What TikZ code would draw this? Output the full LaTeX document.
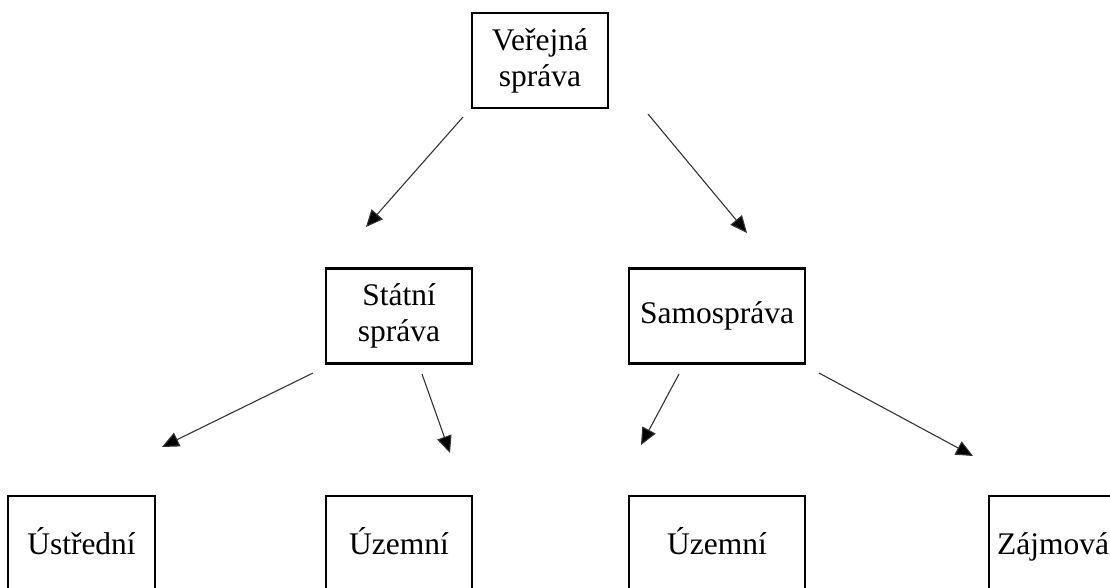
\documentclass[tikz,border=0pt]{standalone}
\usepackage{fontspec}
\setmainfont{Liberation Serif}
\usepackage{tikz}
\usetikzlibrary{arrows.meta}

\begin{document}
\begin{tikzpicture}[x=1pt,y=-1pt,
	box/.style={draw,line width=2.6pt,align=center,inner sep=0pt,minimum height=95pt,
		font=\fontsize{31.5}{36}\selectfont},
	leaf/.style={box,text height=28pt,text depth=7pt},
	arr/.style={-{Triangle[length=17pt,width=15pt,fill=black]},line width=1.1pt,draw=black!80}]
\useasboundingbox (0,0) rectangle (1110,587);
\clip (0,0) rectangle (1110,587);

\node[box,minimum width=136pt] (verejna) at (540,60.5) {Veřejná\\správa};

\node[box,minimum width=146pt] (statni) at (399,316) {Státní\\správa};
\node[box,minimum width=176pt] (samosprava) at (717,316) {Samospráva};

\node[leaf,minimum width=147pt] (ustredni) at (81.5,543.5) {Ústřední};
\node[leaf,minimum width=146pt] (uzemni-s) at (399,543.5) {Územní};
\node[leaf,minimum width=176pt] (uzemni-o) at (717,543.5) {Územní};
\node[leaf,minimum width=128pt] (zajmova) at (1053,543.5) {Zájmová};

% free arrow ends
\coordinate (v-l) at (463,117);  \coordinate (s-t) at (366,227);
\coordinate (v-r) at (648,114);  \coordinate (o-t) at (747,233);
\coordinate (s-l) at (313,373);  \coordinate (u1-t) at (162,447);
\coordinate (s-r) at (422,374);  \coordinate (u2-t) at (450,453);
\coordinate (o-l) at (679,374);  \coordinate (u3-t) at (641,445);
\coordinate (o-r) at (819,373);  \coordinate (z-t) at (973,456);

\draw[arr] (v-l) -- (s-t);
\draw[arr] (v-r) -- (o-t);
\draw[arr] (s-l) -- (u1-t);
\draw[arr] (s-r) -- (u2-t);
\draw[arr] (o-l) -- (u3-t);
\draw[arr] (o-r) -- (z-t);

\end{tikzpicture}
\end{document}
